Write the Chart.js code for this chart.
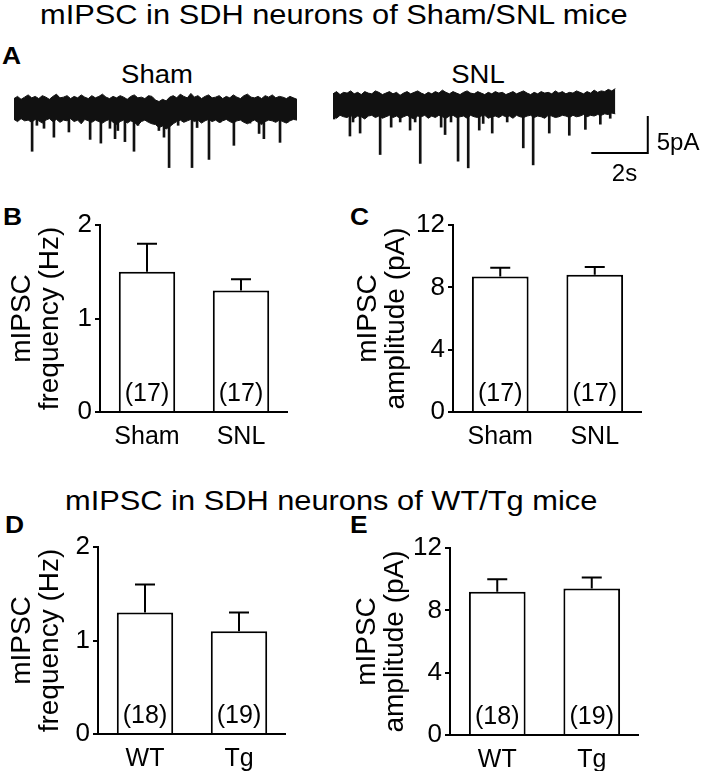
<!DOCTYPE html>
<html>
<head>
<meta charset="utf-8">
<script src="https://cdn.jsdelivr.net/npm/chart.js@4.4.1/dist/chart.umd.min.js"></script>
<style>
  html, body { margin: 0; padding: 0; background: #fff; }
  body { width: 701px; height: 771px; position: relative; overflow: hidden; font-family: "Liberation Sans", Arial, sans-serif; color: #000; }
  canvas { position: absolute; }
  .t { position: absolute; line-height: 1; white-space: nowrap; transform: scaleX(1.1); transform-origin: left top; }
  .title { font-size: 28px; }
  .lett { font-size: 24px; font-weight: bold; }
  .lab { font-size: 25px; width: 200px; text-align: center; transform-origin: center top; }
</style>
</head>
<body>
<div class="t title" style="left:40px; top:1px">mIPSC in SDH neurons of Sham/SNL mice</div>
<div class="t lett" style="left:2px; top:44px">A</div>
<div class="t lab" style="left:57px; top:62px">Sham</div>
<div class="t lab" style="left:378px; top:62px">SNL</div>
<div class="t lett" style="left:3px; top:205px">B</div>
<div class="t lett" style="left:350px; top:205px">C</div>
<div class="t title" style="left:65px; top:487px">mIPSC in SDH neurons of WT/Tg mice</div>
<div class="t lett" style="left:5px; top:513px">D</div>
<div class="t lett" style="left:350px; top:513px">E</div>

<canvas id="sham" width="283" height="89" style="left:14px; top:86px"></canvas>
<canvas id="snl" width="367" height="111" style="left:333px; top:82px"></canvas>
<canvas id="panelB" width="288" height="252" style="left:0px; top:205px"></canvas>
<canvas id="panelC" width="292" height="252" style="left:350px; top:205px"></canvas>
<canvas id="panelD" width="286" height="252" style="left:0px; top:527px"></canvas>
<canvas id="panelE" width="289" height="252" style="left:350px; top:528px"></canvas>

<script>
// --- traces (pA around baseline, time in s) ---
const envStep = 0.125;
const shamUpper = [1.3,1.6,1.2,1.5,1.8,1.4,1.6,1.3,1.7,1.5,1.2,1.6,1.9,1.4,1.5,1.7,1.3,1.6,1.4,1.8,1.5,1.3,1.7,1.4,1.6,1.9,1.5,1.3,1.6,1.4,1.7,1.5,1.2,1.6,1.8,1.4,1.5,1.3,1.7,1.6,1.1,0.9,1.2,1.0,1.5,1.7,1.4,1.9,1.6,1.4,2.0,1.5,1.7,1.3,1.6,1.8,1.4,1.5,1.7,1.3,1.6,1.4,1.8,1.5,1.3,1.7,1.9,1.5,1.4,1.6,1.3,1.7,1.5,1.8,1.4,1.6,1.5,1.3,1.6,1.4,1.2];
const shamLower = [-1.5,-1.8,-1.4,-1.7,-1.6,-1.9,-1.5,-1.7,-2.0,-1.6,-1.4,-1.8,-1.5,-1.9,-1.6,-1.7,-1.4,-1.8,-1.6,-2.1,-1.5,-1.7,-1.9,-1.6,-1.8,-2.0,-1.7,-1.5,-1.9,-2.2,-1.8,-1.6,-2.0,-1.7,-1.9,-2.3,-1.8,-1.6,-1.9,-2.1,-2.2,-2.6,-2.4,-2.8,-2.5,-2.1,-1.8,-1.6,-1.9,-1.7,-1.5,-1.8,-1.6,-2.0,-1.7,-1.5,-1.8,-1.6,-1.9,-1.7,-1.5,-1.8,-2.0,-1.7,-1.6,-1.9,-2.1,-1.8,-1.6,-1.9,-2.2,-1.8,-1.6,-1.7,-1.9,-1.6,-1.8,-2.0,-1.7,-1.5,-1.6];
const shamSpikeT = [0.64,0.81,1.06,1.41,1.94,2.69,3.07,3.39,3.57,3.67,3.92,4.24,4.38,4.70,5.12,5.30,5.48,5.80,6.29,6.47,6.89,7.28,7.77,8.34,8.66,8.83,9.40,9.65];
const shamSpikeA = [-5.8,-2.3,-2.7,-3.9,-3.2,-4.2,-4.7,-2.7,-4.1,-3.0,-4.5,-5.8,-2.3,-1.6,-3.0,-3.9,-8.0,-2.3,-8.0,-2.6,-6.9,-1.9,-5.0,-2.0,-3.4,-4.1,-4.6,-1.9];

const snlUpper = [1.4,1.7,1.3,1.6,1.5,1.8,1.4,1.6,1.3,1.7,1.5,1.4,1.8,1.6,1.3,1.5,1.7,1.4,1.6,1.2,1.5,1.7,1.4,1.6,1.8,1.5,1.3,1.6,1.4,1.7,1.5,1.9,1.6,1.4,1.7,1.5,1.3,1.6,1.8,1.5,1.4,1.7,1.5,1.3,1.6,1.4,1.7,1.5,1.6,1.3,1.5,1.7,1.4,1.6,1.8,1.5,1.3,1.6,1.4,1.7,1.5,1.6,1.4,1.8,1.5,1.7,1.4,1.6,1.5,1.8,1.6,1.4,1.7,1.5,1.9,1.6,1.8,1.7,2.0,1.8,2.1];
const snlLower = [-1.6,-1.9,-1.5,-1.7,-1.8,-1.5,-1.9,-1.6,-1.7,-2.0,-1.6,-1.5,-1.8,-1.6,-1.9,-1.7,-1.5,-1.8,-1.6,-1.9,-1.7,-1.5,-1.8,-2.0,-1.6,-1.7,-1.5,-1.9,-1.6,-1.8,-1.5,-1.7,-1.9,-1.6,-1.5,-1.8,-1.7,-1.6,-1.9,-1.5,-1.7,-1.8,-1.6,-1.5,-1.9,-1.7,-1.6,-1.8,-1.5,-1.7,-1.6,-1.9,-1.5,-1.7,-1.8,-1.6,-1.5,-1.8,-1.6,-1.7,-1.9,-1.5,-1.6,-1.8,-1.7,-1.5,-1.6,-1.8,-1.5,-1.7,-1.6,-1.4,-1.7,-1.5,-1.6,-1.4,-1.5,-1.3,-1.4,-1.2,-1.3];
const snlSpikeT = [0.04,0.60,0.71,0.96,1.67,2.06,2.38,2.73,2.91,3.09,3.83,3.97,4.18,4.43,4.79,5.18,5.32,5.64,6.17,6.74,7.09,7.66,8.37,8.94,9.47,9.82];
const snlSpikeA = [-2.0,-4.3,-2.4,-3.9,-6.8,-3.1,-2.4,-3.5,-2.4,-8.0,-3.1,-4.1,-2.4,-7.7,-8.6,-3.5,-2.6,-3.9,-2.4,-5.9,-8.2,-3.9,-4.2,-3.4,-2.7,-1.9];

// scale bar: 2 s x 5 pA
const barSec = 2;
const barPA = 5;

// --- bar panels ---
const groups1 = ["Sham", "SNL"];
const freq1 = [1.5, 1.3];
const freqSem1 = [0.3, 0.12];
const amp1 = [8.7, 8.8];
const ampSem1 = [0.55, 0.5];
const cells1 = ["(17)", "(17)"];

const groups2 = ["WT", "Tg"];
const freq2 = [1.3, 1.1];
const freqSem2 = [0.3, 0.2];
const amp2 = [9.2, 9.4];
const ampSem2 = [0.8, 0.7];
const cells2 = ["(18)", "(19)"];

const freqTicks = [0, 1, 2];
const ampTicks = [0, 4, 8, 12];

Chart.defaults.font.family = '"Liberation Sans", Arial, sans-serif';
Chart.defaults.color = "#000";

const ink = "#111";

// error bars (upper half only) drawn from the bar tops
const errBars = {
  id: "errBars",
  afterDatasetsDraw(chart, args, opts) {
    const { ctx } = chart;
    const y = chart.scales.y;
    const vals = chart.data.datasets[0].data;
    ctx.save();
    ctx.strokeStyle = "#000";
    ctx.lineWidth = 2;
    chart.getDatasetMeta(0).data.forEach((bar, i) => {
      const y0 = y.getPixelForValue(vals[i]);
      const y1 = y.getPixelForValue(vals[i] + opts.sems[i]);
      ctx.beginPath();
      ctx.moveTo(bar.x, y0);
      ctx.lineTo(bar.x, y1);
      ctx.moveTo(bar.x - 10, y1);
      ctx.lineTo(bar.x + 10, y1);
      ctx.stroke();
    });
    ctx.restore();
  }
};

// cell counts inside the bars
const cellCount = {
  id: "cellCount",
  afterDatasetsDraw(chart, args, opts) {
    const { ctx } = chart;
    const base = chart.scales.y.getPixelForValue(0);
    ctx.save();
    ctx.fillStyle = "#000";
    ctx.font = '25px "Liberation Sans", Arial, sans-serif';
    ctx.textAlign = "center";
    ctx.textBaseline = "alphabetic";
    chart.getDatasetMeta(0).data.forEach((bar, i) => {
      ctx.fillText(opts.cells[i], bar.x, base - 11);
    });
    ctx.restore();
  }
};

function barPanel(id, cats, means, sems, cells, ticks, yTitle, axisW, titlePad) {
  new Chart(document.getElementById(id), {
    type: "bar",
    data: {
      labels: cats,
      datasets: [{
        data: means,
        backgroundColor: "#fff",
        borderColor: "#000",
        borderWidth: 2,
        borderSkipped: "bottom",
        barPercentage: 0.6,
        categoryPercentage: 1
      }]
    },
    options: {
      responsive: false,
      animation: false,
      events: [],
      layout: { padding: { top: 20, left: 0, right: 0, bottom: 0 } },
      plugins: {
        legend: { display: false },
        tooltip: { enabled: false },
        errBars: { sems: sems },
        cellCount: { cells: cells }
      },
      scales: {
        x: {
          z: 1,
          grid: { display: false },
          border: { display: true, color: "#000", width: 2 },
          ticks: { color: "#000", font: { size: 25 }, padding: 2 },
          afterFit: (s) => { s.height = 45; }
        },
        y: {
          min: ticks[0],
          max: ticks[ticks.length - 1],
          afterBuildTicks: (s) => { s.ticks = ticks.map(v => ({ value: v })); },
          grid: { display: true, drawOnChartArea: false, drawTicks: true, tickLength: 5, color: "#000", lineWidth: 2 },
          border: { display: true, color: "#000", width: 2 },
          ticks: { color: "#000", font: { size: 26 }, padding: 3 },
          title: {
            display: true,
            text: yTitle,
            color: "#000",
            font: { size: 28, lineHeight: 1 },
            padding: { top: titlePad, bottom: 0 }
          },
          afterFit: (s) => { s.width = axisW; }
        }
      }
    },
    plugins: [errBars, cellCount]
  });
}

// scale bar labels for the SNL trace
const scaleLabels = {
  id: "scaleLabels",
  afterDraw(chart, args, opts) {
    if (!opts.on) return;
    const { ctx, scales: { x, y } } = chart;
    const xr = x.getPixelForValue(opts.t1);
    const yb = y.getPixelForValue(opts.y0);
    ctx.save();
    ctx.fillStyle = "#000";
    ctx.font = '24px "Liberation Sans", Arial, sans-serif';
    ctx.textBaseline = "middle";
    ctx.textAlign = "left";
    ctx.fillText(barPA + "pA", xr + 9, y.getPixelForValue(opts.y0 + barPA / 2) + 9);
    ctx.textAlign = "center";
    ctx.fillText(barSec + "s", x.getPixelForValue(opts.t1 - barSec / 2) + 5, yb + 21);
    ctx.restore();
  }
};

function tracePanel(id, upper, lower, spikeT, spikeA, xMax, yMin, scaleBar) {
  const datasets = [
    {
      data: upper.map((v, i) => ({ x: i * envStep, y: v })),
      borderColor: ink, borderWidth: 1, pointRadius: 0, tension: 0, fill: false
    },
    {
      data: lower.map((v, i) => ({ x: i * envStep, y: v })),
      borderColor: ink, borderWidth: 1, pointRadius: 0, tension: 0,
      fill: "-1", backgroundColor: ink
    },
    {
      type: "bar",
      data: spikeT.map((t, i) => ({ x: t, y: [-1.0, spikeA[i]] })),
      backgroundColor: ink, borderWidth: 0, barThickness: 2, grouped: false
    }
  ];
  if (scaleBar) {
    datasets.push({
      data: [
        { x: scaleBar.t1 - barSec, y: scaleBar.y0 },
        { x: scaleBar.t1, y: scaleBar.y0 },
        { x: scaleBar.t1, y: scaleBar.y0 + barPA }
      ],
      borderColor: "#000", borderWidth: 2, pointRadius: 0, tension: 0, fill: false
    });
  }
  new Chart(document.getElementById(id), {
    type: "line",
    data: { datasets },
    options: {
      responsive: false,
      animation: false,
      events: [],
      layout: { padding: 0 },
      plugins: {
        legend: { display: false },
        tooltip: { enabled: false },
        scaleLabels: scaleBar ? { on: true, t1: scaleBar.t1, y0: scaleBar.y0 } : { on: false }
      },
      scales: {
        x: { type: "linear", min: 0, max: xMax, offset: false, display: false },
        y: { min: yMin, max: 3, display: false }
      }
    },
    plugins: [scaleLabels]
  });
}

tracePanel("sham", shamUpper, shamLower, shamSpikeT, shamSpikeA, 10, -9, null);
tracePanel("snl", snlUpper, snlLower, snlSpikeT, snlSpikeA, 13, -12, { t1: 11.15, y0: -6.6 });

barPanel("panelB", groups1, freq1, freqSem1, cells1, freqTicks, ["mIPSC", "frequency (Hz)"], 100, 8);
barPanel("panelC", groups1, amp1, ampSem1, cells1, ampTicks, ["mIPSC", "amplitude (pA)"], 103, 4);
barPanel("panelD", groups2, freq2, freqSem2, cells2, freqTicks, ["mIPSC", "frequency (Hz)"], 98, 8);
barPanel("panelE", groups2, amp2, ampSem2, cells2, ampTicks, ["mIPSC", "amplitude (pA)"], 100, 3);
</script>
</body>
</html>
